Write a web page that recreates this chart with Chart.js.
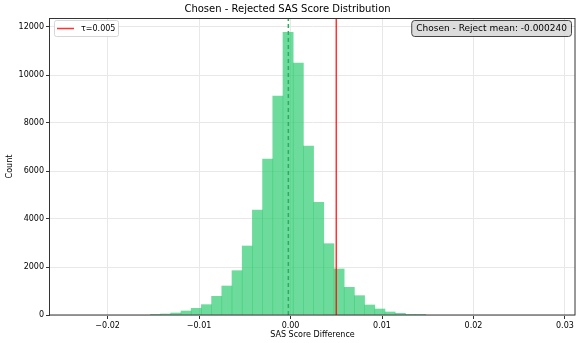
<!DOCTYPE html>
<html>
<head>
<meta charset="utf-8">
<script src="https://cdn.jsdelivr.net/npm/chart.js@4.4.0/dist/chart.umd.min.js"></script>
<style>
    html, body { margin: 0; padding: 0; background: #fff; }
    #wrap { width: 576px; height: 343px; }
</style>
</head>
<body>
<div id="wrap"><canvas id="histChart" width="576" height="343"></canvas></div>
<script>
// histogram bins (centres) and counts
const binCenters = [
    -0.014765, -0.013650, -0.012535, -0.011420, -0.010305, -0.009190, -0.008075,
    -0.006960, -0.005845, -0.004730, -0.003615, -0.002500, -0.001385, -0.000270,
    0.000845, 0.001960, 0.003075, 0.004190, 0.005305, 0.006420, 0.007535,
    0.008650, 0.009765, 0.010880, 0.011995, 0.013110, 0.014225
];
const binCounts = [
    14, 42, 83, 167, 278, 431, 778,
    1208, 1847, 2875, 4375, 6500, 9125, 11780,
    10500, 7040, 4695, 2971, 1917, 1154, 806,
    417, 250, 125, 70, 29, 14
];
const xTickValues = [-0.02, -0.01, 0, 0.01, 0.02, 0.03];
const yTickValues = [0, 2000, 4000, 6000, 8000, 10000, 12000];
const tau = 0.005;
const meanDiff = -0.00024;
const xMin = -0.0263;
const xMax = 0.0311;
const yMax = 12375;

Chart.defaults.font.family = "'DejaVu Sans', sans-serif";
Chart.defaults.color = '#000';

// axes frame, legend box and the mean annotation
const overlayPlugin = {
    id: 'overlay',
    afterDraw(chart) {
        const ctx = chart.ctx;
        const a = chart.chartArea;
        ctx.save();

        // frame
        ctx.strokeStyle = '#333';
        ctx.lineWidth = 1;
        ctx.strokeRect(Math.round(a.left) - 0.5, Math.round(a.top) + 0.5,
            Math.round(a.right - a.left) + 0.5, Math.round(a.bottom - a.top) - 0.5);

        // legend
        ctx.beginPath();
        ctx.roundRect(a.left + 4.5, a.top + 2.5, 64, 16, 2);
        ctx.fillStyle = 'rgba(255,255,255,0.8)';
        ctx.fill();
        ctx.strokeStyle = '#d6d6d6';
        ctx.stroke();
        ctx.beginPath();
        ctx.moveTo(a.left + 7, a.top + 10.5);
        ctx.lineTo(a.left + 24, a.top + 10.5);
        ctx.strokeStyle = 'rgba(255,0,0,0.8)';
        ctx.lineWidth = 1.5;
        ctx.stroke();
        ctx.fillStyle = '#000';
        ctx.font = "8px 'DejaVu Sans'";
        ctx.textBaseline = 'middle';
        ctx.textAlign = 'left';
        ctx.fillText('\u03c4=' + tau, a.left + 31, a.top + 11);

        // mean annotation
        const label = 'Chosen - Reject mean: ' + meanDiff.toFixed(6);
        ctx.font = "9px 'DejaVu Sans'";
        const w = ctx.measureText(label).width;
        ctx.beginPath();
        ctx.roundRect(a.right - w - 12.5, a.top + 2.5, w + 9, 16, 3);
        ctx.fillStyle = 'rgba(211,211,211,0.8)';
        ctx.fill();
        ctx.strokeStyle = '#444';
        ctx.lineWidth = 1;
        ctx.stroke();
        ctx.fillStyle = '#000';
        ctx.textAlign = 'right';
        ctx.fillText(label, a.right - 8, a.top + 11);
        ctx.restore();
    }
};

const barData = binCenters.map((x, i) => ({ x: x, y: binCounts[i] }));

new Chart(document.getElementById('histChart'), {
    type: 'bar',
    data: {
        datasets: [
            {
                type: 'line',
                label: '\u03c4=' + tau,
                data: [{ x: tau, y: 0 }, { x: tau, y: yMax }],
                borderColor: 'rgba(255,0,0,0.8)',
                borderWidth: 1.5,
                pointRadius: 0,
                order: 0
            },
            {
                type: 'line',
                label: 'mean',
                data: [{ x: meanDiff, y: 0 }, { x: meanDiff, y: yMax }],
                borderColor: '#27ae60',
                borderWidth: 1.5,
                borderDash: [4, 3],
                pointRadius: 0,
                order: 1
            },
            {
                label: 'count',
                data: barData,
                backgroundColor: 'rgba(46,204,113,0.7)',
                borderWidth: 0,
                barPercentage: 1,
                categoryPercentage: 1,
                order: 2
            }
        ]
    },
    options: {
        responsive: false,
        animation: false,
        layout: { padding: { left: 0, right: 1, top: 0, bottom: 0 } },
        plugins: {
            legend: { display: false },
            tooltip: { enabled: false },
            title: {
                display: true,
                text: 'Chosen - Rejected SAS Score Distribution',
                font: { size: 10, weight: 'normal' },
                color: '#000',
                padding: { top: 3, bottom: 3 }
            }
        },
        scales: {
            x: {
                type: 'linear',
                offset: false,
                min: xMin,
                max: xMax,
                afterBuildTicks: scale => { scale.ticks = xTickValues.map(v => ({ value: v })); },
                afterFit: scale => { scale.height = 28; },
                ticks: {
                    font: { size: 8 },
                    color: '#000',
                    padding: 2,
                    maxRotation: 0,
                    callback: v => v.toFixed(2).replace('-', '\u2212')
                },
                grid: { offset: false, color: '#e8e8e8', tickColor: '#333', tickLength: 4 },
                border: { display: false },
                title: {
                    display: true,
                    text: 'SAS Score Difference',
                    font: { size: 8 },
                    color: '#000',
                    padding: { top: 0, bottom: 3 }
                }
            },
            y: {
                min: 0,
                max: yMax,
                afterBuildTicks: scale => { scale.ticks = yTickValues.map(v => ({ value: v })); },
                afterFit: scale => { scale.width = 50; },
                ticks: {
                    font: { size: 8 },
                    color: '#000',
                    padding: 2,
                    callback: v => String(v)
                },
                grid: { color: '#e8e8e8', tickColor: '#333', tickLength: 4 },
                border: { display: false },
                title: {
                    display: true,
                    text: 'Count',
                    font: { size: 8 },
                    color: '#000',
                    padding: { top: 5, bottom: 0 }
                }
            }
        }
    },
    plugins: [overlayPlugin]
});
</script>
</body>
</html>
